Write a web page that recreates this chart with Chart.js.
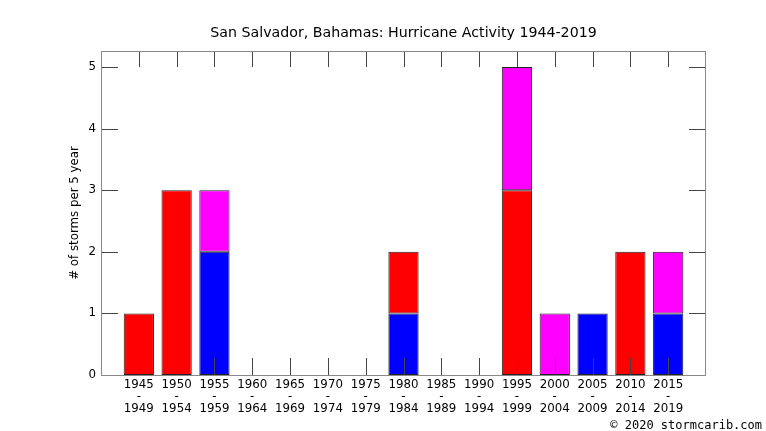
<!DOCTYPE html>
<html>
<head>
<meta charset="utf-8">
<script src="https://cdn.jsdelivr.net/npm/chart.js@4/dist/chart.umd.min.js"></script>
<style>
  html, body { margin: 0; padding: 0; background: #fff; }
  #wrap { width: 766px; height: 431px; }
</style>
</head>
<body>
<div id="wrap"><canvas id="grafico"></canvas></div>
<script>
// periodos de 5 años
const inicios = ['1945','1950','1955','1960','1965','1970','1975','1980','1985','1990','1995','2000','2005','2010','2015'];
const finales = ['1949','1954','1959','1964','1969','1974','1979','1984','1989','1994','1999','2004','2009','2014','2019'];

// tormentas por periodo (azul abajo, rojo en medio, magenta arriba)
const azul    = [0, 0, 2, 0, 0, 0, 0, 1, 0, 0, 0, 0, 1, 0, 1];
const rojo    = [1, 3, 0, 0, 0, 0, 0, 1, 0, 0, 3, 0, 0, 2, 0];
const magenta = [0, 0, 1, 0, 0, 0, 0, 0, 0, 0, 2, 1, 0, 0, 1];

const yTicks = [0, 1, 2, 3, 4, 5];
const titulo = 'San Salvador, Bahamas: Hurricane Activity 1944-2019';

document.addEventListener('DOMContentLoaded', function() {
    // etiquetas con hueco vacío a cada lado
    const labels = [''].concat(inicios.map((a, i) => [a, '-', finales[i]])).concat(['']);
    const rellenar = arr => [null].concat(arr.map(v => v || null)).concat([null]);

    const marcas = {
        id: 'marcas',
        afterDatasetsDraw(chart) {
            const ctx = chart.ctx;
            const a = chart.chartArea;
            const x = chart.scales.x;
            const y = chart.scales.y;
            ctx.save();
            ctx.strokeStyle = '#444';
            ctx.lineWidth = 1;
            ctx.beginPath();
            for (let i = 1; i <= inicios.length; i++) {
                const px = Math.round(x.getPixelForValue(i)) + 0.5;
                ctx.moveTo(px, a.bottom); ctx.lineTo(px, a.bottom - 17);
                ctx.moveTo(px, a.top); ctx.lineTo(px, a.top + 16);
            }
            yTicks.forEach(v => {
                const py = Math.round(y.getPixelForValue(v)) + 0.5;
                ctx.moveTo(a.left, py); ctx.lineTo(a.left + 17, py);
                ctx.moveTo(a.right, py); ctx.lineTo(a.right - 17, py);
            });
            ctx.stroke();
            ctx.strokeStyle = '#888';
            ctx.strokeRect(a.left + 0.5, a.top + 0.5, a.right - a.left - 1, a.bottom - a.top);

            ctx.fillStyle = '#000';
            ctx.font = '14.2px "DejaVu Sans"';
            ctx.textAlign = 'center';
            ctx.textBaseline = 'middle';
            ctx.fillText(titulo, (a.left + a.right) / 2, 33);

            ctx.font = '12px "DejaVu Sans Mono"';
            ctx.textAlign = 'right';
            ctx.textBaseline = 'alphabetic';
            ctx.fillText('\u00a9 2020 stormcarib.com', 762, 429);
            ctx.restore();
        }
    };

    const comun = { borderColor: '#222', borderWidth: 1, borderSkipped: false,
                    barPercentage: 0.8, categoryPercentage: 1.0 };

    new Chart(document.getElementById('grafico'), {
        type: 'bar',
        data: {
            labels: labels,
            datasets: [
                Object.assign({ label: 'azul', data: rellenar(azul), backgroundColor: '#0000ff' }, comun),
                Object.assign({ label: 'rojo', data: rellenar(rojo), backgroundColor: '#ff0000' }, comun),
                Object.assign({ label: 'magenta', data: rellenar(magenta), backgroundColor: '#ff00ff' }, comun)
            ]
        },
        options: {
            responsive: true,
            maintainAspectRatio: false,
            animation: false,
            layout: { padding: { left: 60, right: 60, top: 51, bottom: 0 } },
            plugins: {
                legend: { display: false },
                tooltip: { enabled: false },
                title: { display: false }
            },
            scales: {
                x: {
                    stacked: true,
                    offset: false,
                    grid: { display: false },
                    border: { display: false },
                    ticks: {
                        color: '#000',
                        autoSkip: false,
                        maxRotation: 0,
                        padding: -4,
                        font: { family: 'DejaVu Sans', size: 11.8, lineHeight: 1.0 }
                    },
                    afterFit(scale) { scale.height = 56; }
                },
                y: {
                    stacked: true,
                    min: 0,
                    max: 5.26,
                    grid: { display: false, drawTicks: false },
                    border: { display: false },
                    afterBuildTicks(scale) { scale.ticks = yTicks.map(v => ({ value: v })); },
                    ticks: {
                        color: '#000',
                        padding: 5,
                        font: { family: 'DejaVu Sans', size: 11.8 }
                    },
                    title: {
                        display: true,
                        text: '# of storms per 5 year',
                        color: '#000',
                        font: { family: 'DejaVu Sans', size: 11.8 },
                        padding: { top: 8, bottom: 0 }
                    },
                    afterFit(scale) { scale.width = 41; }
                }
            }
        },
        plugins: [marcas]
    });
});
</script>
</body>
</html>
